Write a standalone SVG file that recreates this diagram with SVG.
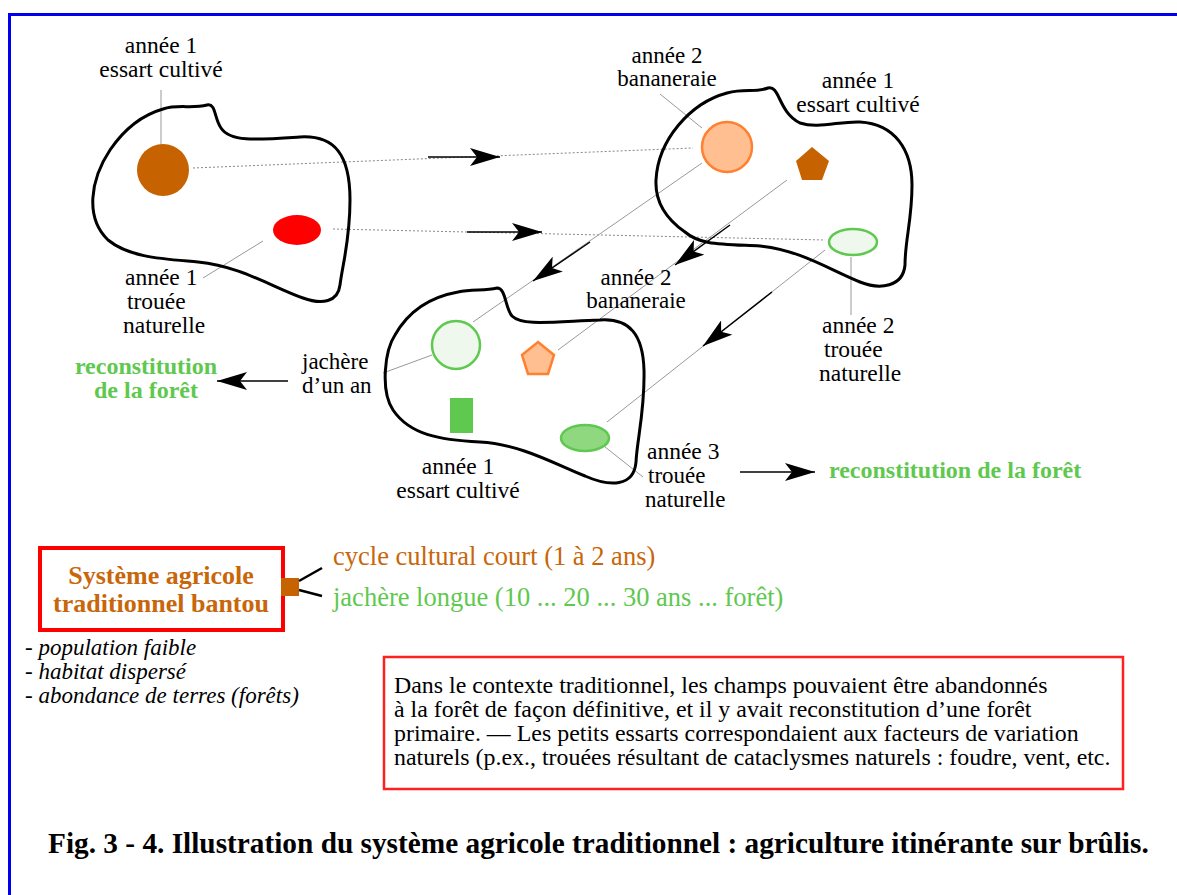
<svg xmlns="http://www.w3.org/2000/svg" width="1177" height="895" viewBox="0 0 1177 895">
<style>
.t{font-family:"Liberation Serif",serif;font-size:23.5px;fill:#000}
.t2{font-family:"Liberation Serif",serif;font-size:23px;fill:#000}
.rec{font-family:"Liberation Serif",serif;font-size:24px;font-weight:bold;fill:#5fc84f}
.blob{fill:none;stroke:#000;stroke-width:3}
.dot{stroke:#888;stroke-width:1;stroke-dasharray:2,2;fill:none}
.lead{stroke:#999;stroke-width:1;fill:none}
.arr{stroke:#000;stroke-width:1.5;fill:none;marker-end:url(#ah)}
.lt{fill:#eef8ec;stroke:#5fc84f;stroke-width:2.5}
.or{fill:#ffbf91;stroke:#ff8030;stroke-width:2.5}
.it{font-family:"Liberation Serif",serif;font-size:23px;font-style:italic;fill:#000}
.box{font-family:"Liberation Serif",serif;font-size:23.9px;fill:#000}
.sys{font-family:"Liberation Serif",serif;font-size:26px;font-weight:bold;fill:#c8660a}
.leg{font-family:"Liberation Serif",serif;font-size:26.5px}
</style>
<defs>
<marker id="ah" markerUnits="userSpaceOnUse" markerWidth="32" markerHeight="18" refX="30" refY="9" orient="auto">
<path d="M0,0 L30,9 L0,18 L7,9 Z" fill="#000"/>
</marker>
</defs>
<rect width="1177" height="895" fill="#fff"/>
<path d="M9.5,895 V14.5 H1177" fill="none" stroke="#0000ee" stroke-width="3"/>

<g id="connectors">
<line class="dot" x1="193" y1="168" x2="693" y2="148"/>
<line class="dot" x1="333" y1="229" x2="825" y2="240"/>
<line class="arr" x1="428" y1="157" x2="500" y2="157"/>
<line class="arr" x1="467" y1="232" x2="542" y2="232"/>
<line class="lead" x1="702" y1="163" x2="473" y2="322"/>
<line class="arr" x1="590" y1="242" x2="533" y2="281"/>
<line class="lead" x1="787" y1="180" x2="558" y2="350"/>
<line class="arr" x1="730" y1="225" x2="675" y2="265"/>
<line class="lead" x1="825" y1="250" x2="607" y2="422"/>
<line class="arr" x1="772" y1="292" x2="703" y2="346"/>
<line class="arr" x1="288" y1="381" x2="217" y2="381"/>
<line class="arr" x1="740" y1="472" x2="815" y2="472"/>
<line class="lead" x1="161" y1="90" x2="161" y2="150"/>
<line class="lead" x1="203" y1="278" x2="263" y2="241"/>
<line class="lead" x1="660" y1="94" x2="702" y2="128"/>
<line class="lead" x1="851" y1="257" x2="851" y2="315"/>
<line class="lead" x1="383" y1="373" x2="432" y2="355"/>
<line class="lead" x1="600" y1="443" x2="643" y2="477"/>
</g>

<g id="plot1">
<path class="blob" d="M163,109 C178,104 192,109 207,105 C216,103 214,118 221,128 C230,142 255,140 300,137 C335,135 350,155 350,200 C350,240 343,262 340,285 C338,302 322,305 303,298 C272,287 240,266 198,262 C165,259 130,258 108,240 C85,218 90,180 110,150 C125,128 142,115 163,109 Z"/>
<circle cx="163" cy="170" r="26" fill="#c66300"/>
<ellipse cx="297" cy="230" rx="24" ry="15" fill="#ff0000"/>
</g>

<g id="plot2">
<path class="blob" d="M727,93 C745,88 755,93 768,88 C780,85 778,112 800,123 C818,129 840,121 860,122 C895,124 912,150 912,185 C912,220 905,240 905,265 C903,287 880,290 860,282 C830,270 800,250 760,246 C720,244 700,245 685,232 C665,218 655,200 656,180 C658,140 690,103 727,93 Z"/>
<circle class="or" cx="727" cy="147" r="25"/>
<polygon points="812,147 829,161 822,180 802,180 796,161" fill="#c66300"/>
<ellipse class="lt" cx="853" cy="242" rx="24" ry="13"/>
</g>

<g id="plot3">
<path class="blob" d="M458,292 C472,289 485,291 497,288 C506,288 505,308 512,316 C522,326 550,322 600,320 C630,318 643,335 644,370 C645,410 637,440 636,462 C634,487 610,487 585,476 C555,464 520,444 480,442 C440,440 410,435 393,410 C380,390 385,350 395,335 C408,312 430,297 458,292 Z"/>
<circle class="lt" cx="456" cy="345" r="24"/>
<polygon class="or" points="538,342 554,355 548,374 528,374 522,355"/>
<rect x="450" y="398" width="23" height="35" fill="#5fc84f"/>
<ellipse cx="585" cy="438" rx="24" ry="13" fill="#90d880" stroke="#5fc84f" stroke-width="2.5"/>
</g>

<g id="labels">
<text class="t" text-anchor="middle" x="161" y="53">année 1</text>
<text class="t" text-anchor="middle" x="161" y="77">essart cultivé</text>
<text class="t" x="125" y="285">année 1</text>
<text class="t" x="127" y="309">trouée</text>
<text class="t" x="123" y="333">naturelle</text>
<text class="t2" text-anchor="middle" x="667" y="63">année 2</text>
<text class="t2" text-anchor="middle" x="667" y="86">bananeraie</text>
<text class="t" text-anchor="middle" x="858" y="88">année 1</text>
<text class="t" text-anchor="middle" x="858" y="112">essart cultivé</text>
<text class="t" x="822" y="333">année 2</text>
<text class="t" x="824" y="357">trouée</text>
<text class="t" x="819" y="381">naturelle</text>
<text class="t2" text-anchor="middle" x="636" y="285">année 2</text>
<text class="t2" text-anchor="middle" x="636" y="308">bananeraie</text>
<text class="t2" x="302" y="369">jachère</text>
<text class="t2" x="302" y="393">d’un an</text>
<text class="rec" text-anchor="middle" x="146" y="374">reconstitution</text>
<text class="rec" text-anchor="middle" x="146" y="398">de la forêt</text>
<text class="t" text-anchor="middle" x="458" y="474">année 1</text>
<text class="t" text-anchor="middle" x="458" y="498">essart cultivé</text>
<text class="t" x="647" y="459">année 3</text>
<text class="t2" x="648" y="483">trouée</text>
<text class="t2" x="645" y="507">naturelle</text>
<text class="rec" x="829" y="478">reconstitution de la forêt</text>
</g>

<g id="system">
<rect x="40" y="548" width="243" height="82" fill="none" stroke="#ff0000" stroke-width="4"/>
<text class="sys" text-anchor="middle" x="161" y="584">Système agricole</text>
<text class="sys" text-anchor="middle" x="161" y="612">traditionnel bantou</text>
<rect x="281" y="578" width="18" height="18" fill="#c66300"/>
<line x1="299" y1="581" x2="322" y2="568" stroke="#000" stroke-width="2.5"/>
<line x1="299" y1="590" x2="322" y2="596" stroke="#000" stroke-width="2.5"/>
<text class="leg" fill="#c8660a" x="333" y="565">cycle cultural court (1 à 2 ans)</text>
<text class="leg" fill="#5fc84f" x="333" y="606">jachère longue (10 ... 20 ... 30 ans ... forêt)</text>
</g>

<g id="features">
<text class="it" x="25" y="655">- population faible</text>
<text class="it" x="25" y="679">- habitat dispersé</text>
<text class="it" x="25" y="703">- abondance de terres (forêts)</text>
</g>

<g id="note">
<rect x="384" y="657" width="739" height="132" fill="none" stroke="#ff2020" stroke-width="2.5"/>
<text class="box" x="394" y="693">Dans le contexte traditionnel, les champs pouvaient être abandonnés</text>
<text class="box" x="394" y="717">à la forêt de façon définitive, et il y avait reconstitution d’une forêt</text>
<text class="box" x="394" y="741">primaire. — Les petits essarts correspondaient aux facteurs de variation</text>
<text class="box" x="394" y="765">naturels (p.ex., trouées résultant de cataclysmes naturels : foudre, vent, etc.</text>
</g>

<text id="caption" font-family="Liberation Serif,serif" font-size="29.3" font-weight="bold" fill="#000" x="48" y="853">Fig. 3 - 4. Illustration du système agricole traditionnel : agriculture itinérante sur brûlis.</text>
</svg>
